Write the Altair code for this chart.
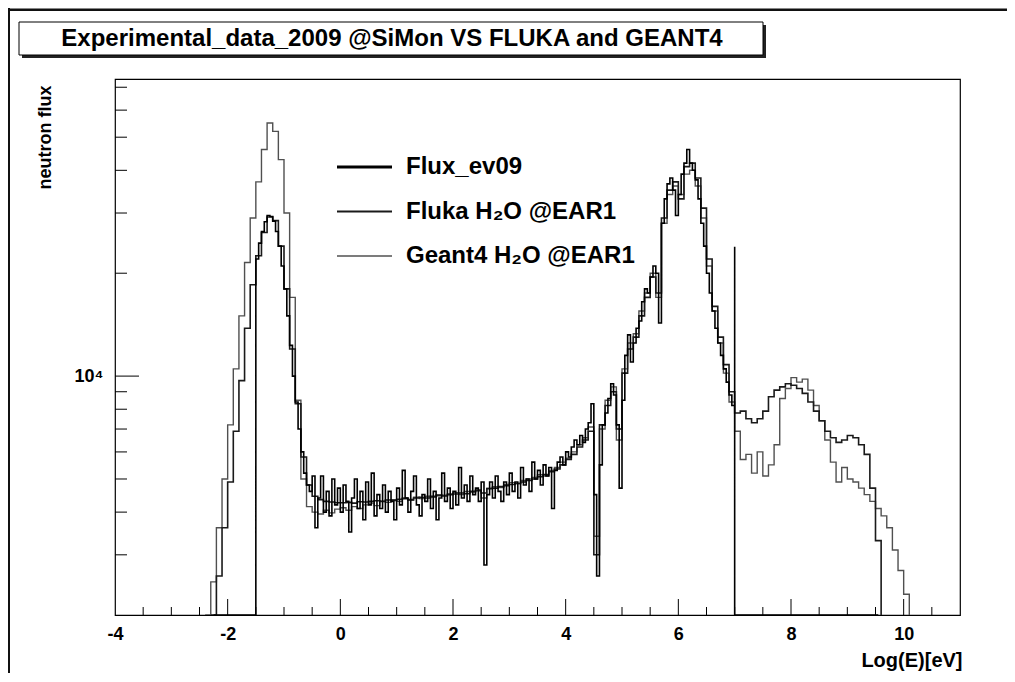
import altair as alt
import pandas as pd

# ---------------- data ----------------
FLOOR = 2000            # bottom of the log axis; empty bins are drawn on it
SIM_STEP = 0.1          # bin width (log10 E) of the simulated spectra
EXP_STEP = 0.05         # bin width of the measured spectrum

FLUKA_START, FLUKA_END = -2.3, 9.6
fluka = [
    2000, 2600, 3600, 4900, 6900, 9700, 13800, 18500, 22500, 26300,
    29200, 28500, 24000, 18000, 12000, 8300, 5800, 4800, 4450, 4350,
    4300, 4280, 4260, 4260, 4270, 4250, 4290, 4280, 4300, 4320,
    4300, 4340, 4330, 4360, 4380, 4350, 4400, 4420, 4400, 4450,
    4470, 4460, 4500, 4520, 4550, 4530, 4600, 4620, 4550, 4680,
    4700, 4750, 4780, 4820, 4850, 4900, 4950, 5000, 5080, 5150,
    5250, 5350, 5500, 5700, 5900, 6200, 6500, 6900, 3000, 7200,
    8200, 9000, 7000, 10200, 12000, 13000, 15000, 17000, 19500, 17500,
    29000, 35000, 37000, 33000, 41000, 42000, 38000, 31000, 22000, 16000,
    13000, 10800, 9000, 7800, 7900, 7500, 7300, 7500, 7900, 8700,
    9100, 9300, 9500, 9400, 9200, 8900, 8400, 7900, 7400, 6900,
    6600, 6400, 6500, 6700, 6600, 6300, 5900, 4700, 3300,
]

GEANT4_START, GEANT4_END = -2.4, 10.1
geant4 = [
    2000, 2500, 3600, 5000, 7200, 10500, 15000, 21500, 29000, 37000,
    46000, 55000, 52000, 43000, 30000, 17000, 8500, 5000, 4150, 4000,
    3950, 4050, 3980, 4080, 4120, 4050, 4150, 4100, 4200, 4250,
    4180, 4300, 4270, 4350, 4300, 4400, 4330, 4420, 4380, 4450,
    4420, 4500, 4480, 4520, 4560, 4500, 4600, 4580, 4650, 4400,
    4700, 4750, 4720, 4820, 4880, 4850, 4950, 5000, 5050, 5150,
    5100, 5300, 5400, 5600, 5750, 6000, 6300, 6600, 7100, 3400,
    7000, 8500, 9300, 6500, 10500, 12500, 13300, 15500, 17500, 20000,
    17000, 28000, 34000, 36000, 34000, 39000, 40000, 36000, 29000, 21000,
    15500, 12500, 10200, 8400, 6900, 5700, 5900, 5200, 6000, 5100,
    5500, 6300, 8600, 9200, 9900, 9600, 9800, 9100, 8200, 7400,
    6500, 5600, 4900, 5400, 5000, 4900, 4700, 4500, 4300, 4100,
    3900, 3600, 3100, 2700, 2300,
]

EXP_FLOOR_START, EXP_START, EXP_END, EXP_FLOOR_END = -2.25, -1.5, 7.0, 9.55
EXP_EDGE = 23900        # height of the closing edge at 7 (log E)
flux_ev09 = [
    22000, 24500, 26500, 28300, 29500, 29300, 28400, 26500, 24000, 21000,
    18000, 15000, 12300, 10000, 8400, 7000, 6000, 5200, 4800, 4600,
    5100, 3600, 4400, 5100, 4000, 4600, 3900, 5000, 4200, 4700,
    4000, 4800, 4300, 3500, 4400, 5000, 4100, 4600, 3800, 4900,
    4200, 5200, 3900, 4500, 4100, 4800, 4000, 4600, 4300, 3800,
    4700, 4200, 5300, 4400, 4000, 4600, 5100, 4200, 3900, 4500,
    4300, 5000, 4100, 4600, 3800, 4400, 5200, 4300, 4700, 4100,
    4600, 4200, 5400, 4400, 4800, 4300, 5100, 4500, 4700, 4300,
    4900, 2800, 4500, 4900, 4400, 5100, 4600, 4300, 4900, 4500,
    5200, 4600, 4900, 4400, 5400, 4800, 5000, 4600, 5600, 5000,
    5300, 4800, 5500, 5100, 5400, 4100, 5300, 5600, 5800, 5500,
    6000, 5800, 6200, 6500, 6300, 6700, 6400, 7000, 7300, 8300,
    4500, 2600, 5500, 7200, 7800, 8600, 9500, 8800, 7200, 4700,
    8500, 11500, 13200, 11000, 12500, 13800, 14500, 16500, 18000, 17500,
    19500, 21000, 20000, 14300, 28000, 33000, 36500, 38000, 35000, 29500,
    34000, 39000, 42000, 46000, 42000, 40000, 37500, 33000, 28000, 24000,
    20000, 17500, 15500, 13800, 12500, 11500, 10500, 9600, 8800, 8200,
]

x_label_values = [-4, -2, 0, 2, 4, 6, 8, 10]
x_major_ticks = [-2, 0, 2, 4, 6, 8, 10]
x_minor_ticks = [-3.5, -3, -2.5, -1.5, -1, -0.5, 0.5, 1, 1.5, 2.5, 3, 3.5,
                 4.5, 5, 5.5, 6.5, 7, 7.5, 8.5, 9, 9.5, 10.5]
y_major_ticks = [10000]
y_minor_ticks = [3000, 4000, 5000, 6000, 7000, 8000, 9000,
                 20000, 30000, 40000, 50000, 60000, 70000]

legend_labels = ["Flux_ev09", "Fluka H\u2082O @EAR1", "Geant4 H\u2082O @EAR1"]
TITLE = "Experimental_data_2009 @SiMon VS FLUKA and GEANT4"

# ---------------- tables ----------------
def hist_table(start, step, values, end):
    rows = [{"x": round(start + i * step, 4), "y": v} for i, v in enumerate(values)]
    rows.append({"x": end, "y": FLOOR})
    df = pd.DataFrame(rows)
    df["i"] = range(len(df))
    return df

fluka_df = hist_table(FLUKA_START, SIM_STEP, fluka, FLUKA_END)
geant4_df = hist_table(GEANT4_START, SIM_STEP, geant4, GEANT4_END)

exp_rows = [{"x": EXP_FLOOR_START, "y": FLOOR}]
exp_rows += [{"x": round(EXP_START + i * EXP_STEP, 4), "y": v} for i, v in enumerate(flux_ev09)]
exp_rows += [{"x": EXP_END, "y": EXP_EDGE}, {"x": EXP_END, "y": FLOOR},
             {"x": EXP_FLOOR_END, "y": FLOOR}]
exp_df = pd.DataFrame(exp_rows)
exp_df["i"] = range(len(exp_df))

one = pd.DataFrame({"a": [0]})

# ---------------- geometry / style ----------------
W, H = 845, 536
FONT = "Liberation Sans"

xscale = alt.Scale(domain=[-4, 11], nice=False, zero=False)
yscale = alt.Scale(type="log", domain=[2000, 74000], nice=False)

xaxis = alt.Axis(
    values=x_label_values, ticks=False, domain=False, grid=False,
    labelExpr="'' + datum.value", labelFont=FONT, labelFontWeight="bold",
    labelFontSize=18, labelColor="black", labelPadding=10,
    labelOverlap=False, labelFlush=False,
    title="Log(E)[eV]", titleFont=FONT, titleFontWeight="bold",
    titleFontSize=20, titleColor="black", titleAnchor="end",
    titleAlign="right", titleBaseline="middle", titleX=W + 2, titleY=45,
)
yaxis = alt.Axis(
    values=y_major_ticks, ticks=False, domain=False, grid=False,
    labelExpr="'10\u2074'", labelFont=FONT, labelFontWeight="bold",
    labelFontSize=18, labelColor="black", labelPadding=12,
    title="neutron flux", titleFont=FONT, titleFontWeight="bold",
    titleFontSize=18, titleColor="black", titleAnchor="end",
    titleAlign="right", titleBaseline="middle", titleAngle=270,
    titleX=-70, titleY=6,
)

X = alt.X("x:Q", scale=xscale, axis=xaxis)
Y = alt.Y("y:Q", scale=yscale, axis=yaxis)


def hist_line(df, color, width):
    return alt.Chart(df).mark_line(
        interpolate="step-after", color=color, strokeWidth=width, clip=True
    ).encode(x=X, y=Y, order="i:Q")


geant4_line = hist_line(geant4_df, "#505050", 1.4)
fluka_line = hist_line(fluka_df, "#1a1a1a", 1.6)
exp_line = hist_line(exp_df, "#000000", 1.6)

# inward ticks
xmaj = alt.Chart(pd.DataFrame({"x": x_major_ticks})).mark_rule(color="black", strokeWidth=1).encode(
    x=X, y=alt.value(H), y2=alt.value(H - 16))
xmin = alt.Chart(pd.DataFrame({"x": x_minor_ticks})).mark_rule(color="black", strokeWidth=1).encode(
    x=X, y=alt.value(H), y2=alt.value(H - 8))
ymaj = alt.Chart(pd.DataFrame({"y": y_major_ticks})).mark_rule(color="black", strokeWidth=1).encode(
    y=Y, x=alt.value(0), x2=alt.value(24))
ymin = alt.Chart(pd.DataFrame({"y": y_minor_ticks})).mark_rule(color="black", strokeWidth=1).encode(
    y=Y, x=alt.value(0), x2=alt.value(12))

# canvas frame (left & top edges) drawn as thin filled bands
frame_left = alt.Chart(one).mark_rect(color="#111").encode(
    x=alt.value(-107.5), x2=alt.value(-105), y=alt.value(-71), y2=alt.value(600))
frame_top = alt.Chart(one).mark_rect(color="#111").encode(
    x=alt.value(-107.5), x2=alt.value(895), y=alt.value(-70.5), y2=alt.value(-68))

# title box with shadow
box_shadow = alt.Chart(one).mark_rect(color="#222").encode(
    x=alt.value(-93), x2=alt.value(651), y=alt.value(-54), y2=alt.value(-21))
box = alt.Chart(one).mark_rect(fill="white", stroke="black", strokeWidth=1).encode(
    x=alt.value(-96), x2=alt.value(648), y=alt.value(-57), y2=alt.value(-24))
title_text = alt.Chart(one).mark_text(
    font=FONT, fontWeight="bold", fontSize=24, color="black",
    align="center", baseline="middle").encode(
    x=alt.value(277), y=alt.value(-40), text=alt.value(TITLE))

# legend (no box in the reference)
legend_layers = []
legend_styles = [("#000000", 3.0), ("#1a1a1a", 2.0), ("#505050", 1.5)]
for k, (lab, (col, sw)) in enumerate(zip(legend_labels, legend_styles)):
    ly = 88 + k * 44.5
    legend_layers.append(alt.Chart(one).mark_rule(color=col, strokeWidth=sw).encode(
        x=alt.value(222), x2=alt.value(277), y=alt.value(ly), y2=alt.value(ly)))
    legend_layers.append(alt.Chart(one).mark_text(
        font=FONT, fontWeight="bold", fontSize=24, color="black",
        align="left", baseline="middle").encode(
        x=alt.value(291), y=alt.value(ly), text=alt.value(lab)))

chart = alt.layer(
    frame_left, frame_top, box_shadow, box, title_text,
    geant4_line, fluka_line, exp_line,
    xmaj, xmin, ymaj, ymin,
    *legend_layers,
).properties(
    width=W, height=H,
    autosize=alt.AutoSizeParams(type="none"),
    padding={"left": 107, "top": 71, "right": 47, "bottom": 58},
    background="white",
).configure_view(stroke="black", strokeWidth=1.2)

chart.save("out.html", embed_options={"renderer": "svg", "actions": False})
